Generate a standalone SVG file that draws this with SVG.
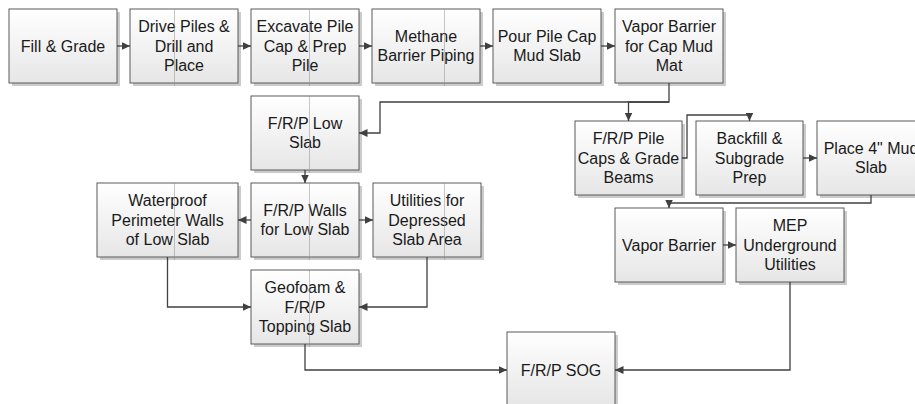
<svg xmlns="http://www.w3.org/2000/svg" width="915" height="404" viewBox="0 0 915 404">
<defs>
<linearGradient id="g" x1="0" y1="0" x2="0" y2="1">
<stop offset="0" stop-color="#ffffff"/>
<stop offset="1" stop-color="#e6e6e6"/>
</linearGradient>
<marker id="a" markerWidth="9" markerHeight="8" refX="8.5" refY="4" orient="auto" markerUnits="userSpaceOnUse">
<path d="M0,0 L8.5,4 L0,8 z" fill="#404040"/>
</marker>
<style>
.sh{fill:#cbcbcb}
.bx{fill:url(#g);stroke:#5a5a5a;stroke-width:1}
.t{font-family:"Liberation Sans",Arial,sans-serif;font-size:16px;fill:#1a1a1a;text-anchor:middle}
.c{fill:none;stroke:#404040;stroke-width:1.3;marker-end:url(#a)}
.pg{stroke:#8a8a8a;stroke-width:0.8;opacity:0.6}
</style>
</defs>
<rect width="915" height="404" fill="#ffffff"/>

<g id="n1"><rect class="sh" x="12" y="12" width="108" height="74"/><rect class="bx" x="9" y="9" width="108" height="74"/><text class="t" x="63" y="51.5">Fill &amp; Grade</text></g>
<g id="n2"><rect class="sh" x="133" y="12" width="108" height="74"/><rect class="bx" x="130" y="9" width="108" height="74"/><text class="t" x="184" y="32">Drive Piles &amp;</text><text class="t" x="184" y="51.5">Drill and</text><text class="t" x="184" y="71">Place</text></g>
<g id="n3"><rect class="sh" x="254" y="12" width="108" height="74"/><rect class="bx" x="251" y="9" width="108" height="74"/><text class="t" x="305" y="32">Excavate Pile</text><text class="t" x="305" y="51.5">Cap &amp; Prep</text><text class="t" x="305" y="71">Pile</text></g>
<g id="n4"><rect class="sh" x="375" y="12" width="108" height="74"/><rect class="bx" x="372" y="9" width="108" height="74"/><text class="t" x="426" y="41.5">Methane</text><text class="t" x="426" y="61">Barrier Piping</text></g>
<g id="n5"><rect class="sh" x="496" y="12" width="108" height="74"/><rect class="bx" x="493" y="9" width="108" height="74"/><text class="t" x="547" y="41.5">Pour Pile Cap</text><text class="t" x="547" y="61">Mud Slab</text></g>
<g id="n6"><rect class="sh" x="618" y="12" width="108" height="74"/><rect class="bx" x="615" y="9" width="108" height="74"/><text class="t" x="669" y="32">Vapor Barrier</text><text class="t" x="669" y="51.5">for Cap Mud</text><text class="t" x="669" y="71">Mat</text></g>
<g id="n7"><rect class="sh" x="254" y="99" width="108" height="74"/><rect class="bx" x="251" y="96" width="108" height="74"/><text class="t" x="305" y="128.5">F/R/P Low</text><text class="t" x="305" y="148">Slab</text></g>
<g id="n8"><rect class="sh" x="100" y="186" width="141" height="74"/><rect class="bx" x="97" y="183" width="141" height="74"/><text class="t" x="167.5" y="206">Waterproof</text><text class="t" x="167.5" y="225.5">Perimeter Walls</text><text class="t" x="167.5" y="245">of Low Slab</text></g>
<g id="n9"><rect class="sh" x="254" y="186" width="108" height="74"/><rect class="bx" x="251" y="183" width="108" height="74"/><text class="t" x="305" y="215.5">F/R/P Walls</text><text class="t" x="305" y="235">for Low Slab</text></g>
<g id="n10"><rect class="sh" x="376" y="186" width="108" height="74"/><rect class="bx" x="373" y="183" width="108" height="74"/><text class="t" x="427" y="206">Utilities for</text><text class="t" x="427" y="225.5">Depressed</text><text class="t" x="427" y="245">Slab Area</text></g>
<g id="n11"><rect class="sh" x="254" y="273" width="108" height="74"/><rect class="bx" x="251" y="270" width="108" height="74"/><text class="t" x="305" y="293">Geofoam &amp;</text><text class="t" x="305" y="312.5">F/R/P</text><text class="t" x="305" y="332">Topping Slab</text></g>
<g id="n12"><rect class="sh" x="510" y="335" width="108" height="74"/><rect class="bx" x="507" y="332" width="108" height="74"/><text class="t" x="561" y="375.5">F/R/P SOG</text></g>
<g id="n13"><rect class="sh" x="578" y="124" width="107" height="74"/><rect class="bx" x="575" y="121" width="107" height="74"/><text class="t" x="628.5" y="144">F/R/P Pile</text><text class="t" x="628.5" y="163.5">Caps &amp; Grade</text><text class="t" x="628.5" y="183">Beams</text></g>
<g id="n14"><rect class="sh" x="699" y="124" width="107" height="74"/><rect class="bx" x="696" y="121" width="107" height="74"/><text class="t" x="749.5" y="144">Backfill &amp;</text><text class="t" x="749.5" y="163.5">Subgrade</text><text class="t" x="749.5" y="183">Prep</text></g>
<g id="n15"><rect class="sh" x="820" y="124" width="108" height="74"/><rect class="bx" x="817" y="121" width="108" height="74"/><text class="t" x="871" y="153.5">Place 4" Mud</text><text class="t" x="871" y="173">Slab</text></g>
<g id="n16"><rect class="sh" x="618" y="211" width="108" height="74"/><rect class="bx" x="615" y="208" width="108" height="74"/><text class="t" x="669" y="250.5">Vapor Barrier</text></g>
<g id="n17"><rect class="sh" x="739" y="211" width="108" height="74"/><rect class="bx" x="736" y="208" width="108" height="74"/><text class="t" x="790" y="231">MEP</text><text class="t" x="790" y="250.5">Underground</text><text class="t" x="790" y="270">Utilities</text></g>

<g id="connectors">
<path class="c" d="M117,46 H130"/>
<path class="c" d="M238,46 H251"/>
<path class="c" d="M359,46 H372"/>
<path class="c" d="M480,46 H493"/>
<path class="c" d="M601,46 H615"/>
<path class="c" d="M669,83 V102 H380 V133 H359"/>
<path class="c" d="M669,102 H628.5 V121"/>
<path class="c" d="M305,170 V183"/>
<path class="c" d="M251,220 H238"/>
<path class="c" d="M359,220 H373"/>
<path class="c" d="M167.5,257 V307 H251"/>
<path class="c" d="M427,257 V307 H359"/>
<path class="c" d="M305,344 V370 H507"/>
<path class="c" d="M790,282 V370 H615"/>
<path class="c" d="M682,158 H687 V115 H749.5 V121"/>
<path class="c" d="M803,158 H817"/>
<path class="c" d="M871,195 V203 H669 V208"/>
<path class="c" d="M723,245 H736"/>
</g>

<g id="page-lines">
<line class="pg" x1="174.5" y1="9" x2="174.5" y2="86"/>
<line class="pg" x1="174.5" y1="183" x2="174.5" y2="260"/>
<line class="pg" x1="309.5" y1="9" x2="309.5" y2="86"/>
<line class="pg" x1="309.5" y1="96" x2="309.5" y2="173"/>
<line class="pg" x1="309.5" y1="183" x2="309.5" y2="260"/>
<line class="pg" x1="309.5" y1="270" x2="309.5" y2="347"/>
<line class="pg" x1="444.5" y1="9" x2="444.5" y2="86"/>
<line class="pg" x1="444.5" y1="183" x2="444.5" y2="260"/>
</g>
</svg>
